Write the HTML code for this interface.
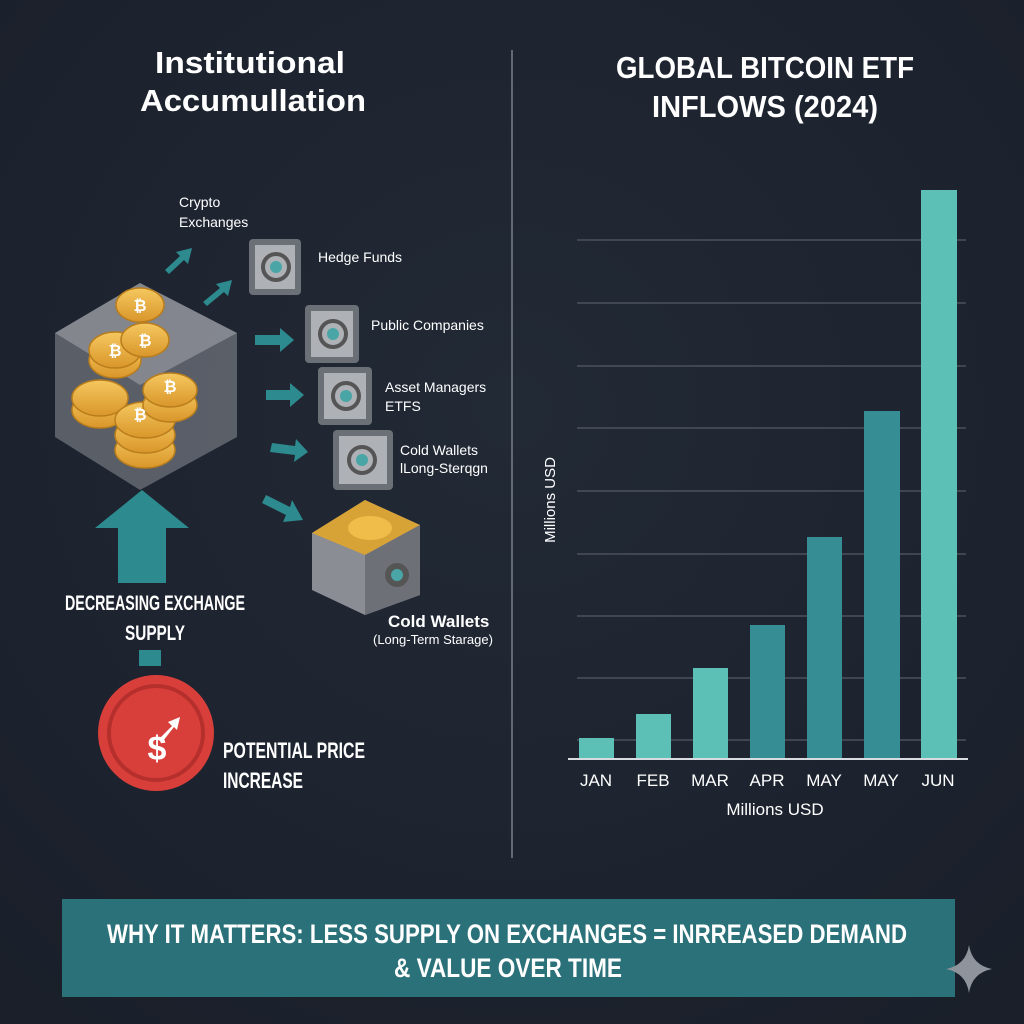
<!DOCTYPE html>
<html><head><meta charset="utf-8"><style>
html,body{margin:0;padding:0;background:#1d2330;}
svg{display:block}
text{font-family:"Liberation Sans Narrow","Liberation Sans",sans-serif;fill:#fff}
</style></head><body>
<svg width="1024" height="1024" viewBox="0 0 1024 1024" xmlns="http://www.w3.org/2000/svg">
<defs>
<radialGradient id="bg" cx="50%" cy="40%" r="75%"><stop offset="0" stop-color="#222a36"/><stop offset="1" stop-color="#1a1f2a"/></radialGradient>
<linearGradient id="coin" x1="0" y1="0" x2="0" y2="1"><stop offset="0" stop-color="#f5c860"/><stop offset="1" stop-color="#d9962a"/></linearGradient>
</defs>
<rect width="1024" height="1024" fill="url(#bg)"/>
<line x1="512" y1="50" x2="512" y2="858" stroke="#7a808a" stroke-width="1.5"/>

<!-- titles -->
<text x="250" y="73" font-size="31" font-weight="bold" text-anchor="middle" textLength="190" lengthAdjust="spacingAndGlyphs">Institutional</text>
<text x="253" y="111" font-size="31" font-weight="bold" text-anchor="middle" textLength="226" lengthAdjust="spacingAndGlyphs">Accumullation</text>
<text x="765" y="78" font-size="31" font-weight="bold" text-anchor="middle" textLength="298" lengthAdjust="spacingAndGlyphs">GLOBAL BITCOIN ETF</text>
<text x="765" y="117" font-size="31" font-weight="bold" text-anchor="middle" textLength="226" lengthAdjust="spacingAndGlyphs">INFLOWS (2024)</text>

<!-- left illustration: cube -->
<polygon points="140,283 237,333 237,437 140,490 55,437 55,333" fill="#8a8e95" opacity="0.55"/>
<polygon points="140,283 237,333 140,385 55,333" fill="#b5b8bd" opacity="0.45"/>
<g fill="url(#coin)" stroke="#b97d1c" stroke-width="1.5">
<ellipse cx="100" cy="410" rx="28" ry="18"/><ellipse cx="100" cy="398" rx="28" ry="18"/>
<ellipse cx="145" cy="450" rx="30" ry="18"/><ellipse cx="145" cy="435" rx="30" ry="18"/><ellipse cx="145" cy="420" rx="30" ry="18"/>
<ellipse cx="170" cy="405" rx="27" ry="17"/><ellipse cx="170" cy="390" rx="27" ry="17"/>
<ellipse cx="115" cy="360" rx="26" ry="18"/><ellipse cx="115" cy="350" rx="26" ry="18"/>
<ellipse cx="145" cy="340" rx="24" ry="17"/>
<ellipse cx="140" cy="305" rx="24" ry="17"/>
</g>
<g font-size="16" font-weight="bold" text-anchor="middle" style="fill:#fff6dc">
<text x="140" y="311">₿</text><text x="145" y="346">₿</text><text x="115" y="356">₿</text><text x="170" y="392">₿</text><text x="140" y="420">₿</text></g>

<!-- arrows -->
<g fill="#2d8a8e">
<polygon points="165,270 180,256 176,252 192,248 188,264 184,260 169,274"/>
<polygon points="203,302 220,288 216,284 232,280 228,296 224,292 207,306"/>
<polygon points="255,335 280,335 280,328 294,340 280,352 280,345 255,345"/>
<polygon points="266,390 290,390 290,383 304,395 290,407 290,400 266,400"/>
<polygon points="272,443 295,446 296,439 308,452 294,462 295,455 270,452"/>
<polygon points="266,495 290,507 292,500 303,520 283,522 286,515 262,503"/>
<polygon points="118,583 118,528 95,528 142,490 189,528 166,528 166,583"/>
<rect x="139" y="650" width="22" height="16"/>
</g>
<!-- safes -->
<g>
<rect x="249" y="239" width="52" height="56" rx="4" fill="#6b6f76"/><rect x="255" y="245" width="40" height="44" fill="#aeb1b6"/><circle cx="276" cy="267" r="13" fill="none" stroke="#555" stroke-width="4"/><circle cx="276" cy="267" r="6" fill="#4aa6a6"/>
<rect x="305" y="305" width="54" height="58" rx="4" fill="#6b6f76"/><rect x="311" y="311" width="42" height="46" fill="#aeb1b6"/><circle cx="333" cy="334" r="13" fill="none" stroke="#555" stroke-width="4"/><circle cx="333" cy="334" r="6" fill="#4aa6a6"/>
<rect x="318" y="367" width="54" height="58" rx="4" fill="#6b6f76"/><rect x="324" y="373" width="42" height="46" fill="#aeb1b6"/><circle cx="346" cy="396" r="13" fill="none" stroke="#555" stroke-width="4"/><circle cx="346" cy="396" r="6" fill="#4aa6a6"/>
<rect x="333" y="430" width="60" height="60" rx="4" fill="#6b6f76"/><rect x="339" y="436" width="48" height="48" fill="#aeb1b6"/><circle cx="362" cy="460" r="13" fill="none" stroke="#555" stroke-width="4"/><circle cx="362" cy="460" r="6" fill="#4aa6a6"/>
<polygon points="312,533 365,500 420,525 420,595 365,615 312,590" fill="#8a8d93"/>
<polygon points="312,533 365,555 420,525 365,500" fill="#d8a336"/>
<polygon points="365,555 420,525 420,595 365,615" fill="#6d7077"/>
<ellipse cx="370" cy="528" rx="22" ry="12" fill="#f0bd4a"/>
<circle cx="397" cy="575" r="12" fill="#555"/><circle cx="397" cy="575" r="6" fill="#4aa6a6"/>
</g>
<g font-size="14" style="fill:#e8e8e8">
<text x="179" y="207">Crypto</text><text x="179" y="227">Exchanges</text>
<text x="318" y="262">Hedge Funds</text>
<text x="371" y="330">Public Companies</text>
<text x="385" y="392">Asset Managers</text><text x="385" y="411">ETFS</text>
<text x="400" y="455">Cold Wallets</text><text x="400" y="473">lLong-Sterqgn</text>
<text x="388" y="627" font-size="17" font-weight="bold">Cold Wallets</text>
<text x="373" y="644" font-size="13">(Long-Term Starage)</text>
</g>
<text x="155" y="610" font-size="21" font-weight="bold" text-anchor="middle" textLength="180" lengthAdjust="spacingAndGlyphs">DECREASING EXCHANGE</text>
<text x="155" y="640" font-size="21" font-weight="bold" text-anchor="middle" textLength="60" lengthAdjust="spacingAndGlyphs">SUPPLY</text>
<circle cx="156" cy="733" r="58" fill="#d93f3a"/>
<circle cx="156" cy="733" r="47" fill="none" stroke="#b52f2c" stroke-width="4"/>
<text x="157" y="760" font-size="34" font-weight="bold" text-anchor="middle">$</text>
<polygon points="160,738 172,726 168,722 180,717 177,730 174,727 163,741" fill="#fff"/>
<text x="223" y="758" font-size="22" font-weight="bold" textLength="142" lengthAdjust="spacingAndGlyphs">POTENTIAL PRICE</text>
<text x="223" y="788" font-size="22" font-weight="bold" textLength="80" lengthAdjust="spacingAndGlyphs">INCREASE</text>

<!-- chart -->
<g stroke="#4c525c" stroke-width="1.5">
<line x1="577" y1="240" x2="966" y2="240"/><line x1="577" y1="303" x2="966" y2="303"/><line x1="577" y1="366" x2="966" y2="366"/><line x1="577" y1="428" x2="966" y2="428"/><line x1="577" y1="491" x2="966" y2="491"/><line x1="577" y1="554" x2="966" y2="554"/><line x1="577" y1="616" x2="966" y2="616"/><line x1="577" y1="678" x2="966" y2="678"/><line x1="577" y1="740" x2="966" y2="740"/>
</g>
<rect x="579" y="738" width="35" height="20" fill="#5dc0b6"/>
<rect x="636" y="714" width="35" height="44" fill="#5dc0b6"/>
<rect x="693" y="668" width="35" height="90" fill="#5dc0b6"/>
<rect x="750" y="625" width="35" height="133" fill="#368d94"/>
<rect x="807" y="537" width="35" height="221" fill="#368d94"/>
<rect x="864" y="411" width="36" height="347" fill="#368d94"/>
<rect x="921" y="190" width="36" height="568" fill="#5dc0b6"/>
<line x1="568" y1="759" x2="968" y2="759" stroke="#d8dbe0" stroke-width="2"/>
<g font-size="17" text-anchor="middle" style="fill:#dfe2e6">
<text x="596" y="786">JAN</text><text x="653" y="786">FEB</text><text x="710" y="786">MAR</text><text x="767" y="786">APR</text><text x="824" y="786">MAY</text><text x="881" y="786">MAY</text><text x="938" y="786">JUN</text>
<text x="775" y="815">Millions USD</text>
</g>
<text transform="translate(555,500) rotate(-90)" font-size="15" text-anchor="middle">Millions USD</text>

<!-- banner -->
<rect x="62" y="899" width="893" height="98" fill="#2b7179"/>
<text x="507" y="943" font-size="27" font-weight="bold" text-anchor="middle" textLength="800" lengthAdjust="spacingAndGlyphs">WHY IT MATTERS: LESS SUPPLY ON EXCHANGES = INRREASED DEMAND</text>
<text x="508" y="977" font-size="27" font-weight="bold" text-anchor="middle" textLength="228" lengthAdjust="spacingAndGlyphs">&amp; VALUE OVER TIME</text>
<path d="M969,945 Q972,965 992,969 Q972,973 969,993 Q966,973 946,969 Q966,965 969,945Z" fill="#8f939b"/>
</svg>
</body></html>
